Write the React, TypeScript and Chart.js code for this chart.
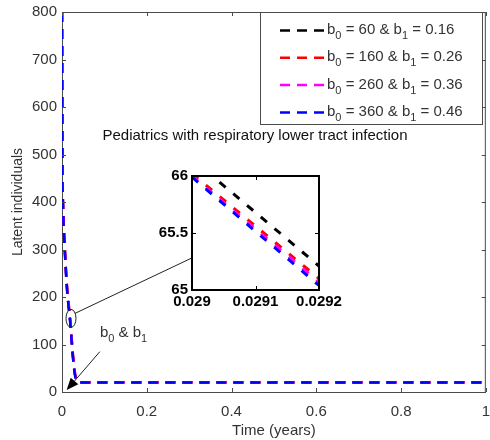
import React, { useEffect, useRef } from "react";
import { Chart, registerables } from "chart.js";
Chart.register(...registerables);

// ---------- data ----------
const timeYears = [0, 0.001, 0.004, 0.007, 0.01, 0.013, 0.016, 0.019, 0.022, 0.025, 0.028, 0.031, 0.034, 0.037, 0.045, 0.1, 0.2, 0.3, 0.4, 0.5, 0.6, 0.7, 0.8, 0.9, 1.0];
const latentB0_60 = [800, 432, 347, 292, 242, 202, 178, 152, 118, 82, 54, 35, 24, 21, 20.3, 20.3, 20.3, 20.3, 20.3, 20.3, 20.3, 20.3, 20.3, 20.3, 20.3];
const latentB0_160 = [800, 438, 353, 298, 248, 208, 184, 158, 124, 88, 59, 38, 26, 21.5, 20.5, 20.5, 20.5, 20.5, 20.5, 20.5, 20.5, 20.5, 20.5, 20.5, 20.5];
const latentB0_260 = [800, 434, 349, 294, 244, 204, 180, 154, 120, 84, 56, 36, 25, 21.2, 20.2, 20.2, 20.2, 20.2, 20.2, 20.2, 20.2, 20.2, 20.2, 20.2, 20.2];
const latentB0_360 = [800, 430, 345, 290, 240, 200, 176, 150, 116, 80, 52, 33, 23, 20.5, 20, 20, 20, 20, 20, 20, 20, 20, 20, 20, 20];

const insetTime = [0.029, 0.0291, 0.0292];
const insetB0_60 = [66.15, 65.68, 65.21];
const insetB0_160 = [66.02, 65.56, 65.1];
const insetB0_260 = [66.0, 65.535, 65.07];
const insetB0_360 = [65.99, 65.515, 65.04];

const legendB0 = [60, 160, 260, 360];
const legendB1 = [0.16, 0.26, 0.36, 0.46];
const seriesColors = ["#000000", "#ff0000", "#ff00ff", "#0000ff"];

const xTicks = [0, 0.2, 0.4, 0.6, 0.8, 1];
const yTicks = [0, 100, 200, 300, 400, 500, 600, 700, 800];
const insetXTicks = [0.029, 0.0291, 0.0292];
const insetYTicks = [65, 65.5, 66];

const titleText = "Pediatrics with respiratory lower tract infection";
const xTitle = "Time (years)";
const yTitle = "Latent individuals";

// annotation anchors in data coordinates of the main chart
const ellipseAt = { x: 0.0212, y: 155 };
const connectorEnd = { x: 0.3059, y: 282 };
const arrowFrom = { x: 0.0894, y: 85 };
const arrowTo = { x: 0.011, y: 4 };
const arrowLabelAt = { x: 0.0894, y: 116 };

const FONT = "'Liberation Sans', Arial, sans-serif";
const AXIS = "#4a4a4a";
const TEXT = "#333333";

function drawSubText(ctx: CanvasRenderingContext2D, parts: { t: string; sub?: boolean }[], x: number, y: number, size: number, subSize: number, color: string) {
  let cx = x;
  ctx.save();
  ctx.fillStyle = color;
  ctx.textAlign = "left";
  ctx.textBaseline = "alphabetic";
  for (const p of parts) {
    ctx.font = `${p.sub ? subSize : size}px ${FONT}`;
    ctx.fillText(p.t, cx, p.sub ? y + 5 : y);
    cx += ctx.measureText(p.t).width;
  }
  ctx.restore();
}

const mainDecor = {
  id: "mainDecor",
  afterDraw(chart: any) {
    const ctx: CanvasRenderingContext2D = chart.ctx;
    const a = chart.chartArea;
    const xs = chart.scales.x;
    const ys = chart.scales.y;
    ctx.save();
    // box
    ctx.strokeStyle = AXIS;
    ctx.lineWidth = 1;
    ctx.beginPath();
    ctx.moveTo(a.left, a.top + 0.5);
    ctx.lineTo(a.right - 0.5, a.top + 0.5);
    ctx.lineTo(a.right - 0.5, a.bottom);
    ctx.stroke();
    // inward ticks
    ctx.beginPath();
    for (const v of xTicks) {
      const px = Math.round(xs.getPixelForValue(v)) + 0.5;
      ctx.moveTo(px, a.bottom);
      ctx.lineTo(px, a.bottom - 4);
      ctx.moveTo(px, a.top);
      ctx.lineTo(px, a.top + 4);
    }
    for (const v of yTicks) {
      const py = Math.round(ys.getPixelForValue(v)) + 0.5;
      ctx.moveTo(a.left, py);
      ctx.lineTo(a.left + 4, py);
      ctx.moveTo(a.right, py);
      ctx.lineTo(a.right - 4, py);
    }
    ctx.stroke();

    // legend
    const lx = 260, ly = a.top, lw = 222, lh = 112;
    ctx.fillStyle = "#fff";
    ctx.fillRect(lx, ly, lw, lh);
    ctx.strokeStyle = AXIS;
    ctx.strokeRect(lx + 0.5, ly + 0.5, lw, lh);
    for (let i = 0; i < legendB0.length; i++) {
      const rowY = 29 + i * 27.3;
      ctx.save();
      ctx.strokeStyle = seriesColors[i];
      ctx.lineWidth = 2.5;
      ctx.setLineDash([10, 7]);
      ctx.beginPath();
      ctx.moveTo(280, rowY + 1.5);
      ctx.lineTo(324, rowY + 1.5);
      ctx.stroke();
      ctx.restore();
      drawSubText(ctx, [
        { t: "b" }, { t: "0", sub: true }, { t: ` = ${legendB0[i]} & ` },
        { t: "b" }, { t: "1", sub: true }, { t: ` = ${legendB1[i]}` },
      ], 327, rowY + 5, 15, 11, TEXT);
    }

    // title
    ctx.fillStyle = "#111";
    ctx.font = `15px ${FONT}`;
    ctx.textAlign = "center";
    ctx.textBaseline = "middle";
    ctx.fillText(titleText, 255, 136);

    // ellipse + connector
    const ex = xs.getPixelForValue(ellipseAt.x);
    const ey = ys.getPixelForValue(ellipseAt.y);
    ctx.strokeStyle = "#222";
    ctx.lineWidth = 1;
    ctx.beginPath();
    ctx.ellipse(ex, ey, 5, 9, 0, 0, Math.PI * 2);
    ctx.stroke();
    ctx.beginPath();
    ctx.moveTo(ex + 4, ey - 5);
    ctx.lineTo(xs.getPixelForValue(connectorEnd.x), ys.getPixelForValue(connectorEnd.y));
    ctx.stroke();

    // arrow
    const ax0 = xs.getPixelForValue(arrowFrom.x), ay0 = ys.getPixelForValue(arrowFrom.y);
    const ax1 = xs.getPixelForValue(arrowTo.x), ay1 = ys.getPixelForValue(arrowTo.y);
    const ang = Math.atan2(ay1 - ay0, ax1 - ax0);
    const hl = 12, hw = 5;
    const bx = ax1 - hl * Math.cos(ang), by = ay1 - hl * Math.sin(ang);
    ctx.beginPath();
    ctx.moveTo(ax0, ay0);
    ctx.lineTo(bx, by);
    ctx.stroke();
    ctx.fillStyle = "#000";
    ctx.beginPath();
    ctx.moveTo(ax1, ay1);
    ctx.lineTo(bx + hw * Math.sin(ang), by - hw * Math.cos(ang));
    ctx.lineTo(bx - hw * Math.sin(ang), by + hw * Math.cos(ang));
    ctx.closePath();
    ctx.fill();
    drawSubText(ctx, [{ t: "b" }, { t: "0", sub: true }, { t: " & " }, { t: "b" }, { t: "1", sub: true }],
      xs.getPixelForValue(arrowLabelAt.x), ys.getPixelForValue(arrowLabelAt.y), 15, 11, TEXT);
    ctx.restore();
  },
};

const insetDecor = {
  id: "insetDecor",
  beforeDatasetsDraw(chart: any) {
    const ctx = chart.ctx;
    const a = chart.chartArea;
    ctx.save();
    ctx.fillStyle = "#fff";
    ctx.fillRect(a.left, a.top, a.right - a.left, a.bottom - a.top);
    ctx.restore();
  },
  afterDraw(chart: any) {
    const ctx: CanvasRenderingContext2D = chart.ctx;
    const a = chart.chartArea;
    const xs = chart.scales.x;
    const ys = chart.scales.y;
    ctx.save();
    ctx.strokeStyle = "#000";
    ctx.lineWidth = 2;
    ctx.strokeRect(a.left, a.top, a.right - a.left, a.bottom - a.top);
    ctx.lineWidth = 1;
    ctx.beginPath();
    for (const v of insetXTicks) {
      const px = Math.round(xs.getPixelForValue(v)) + 0.5;
      ctx.moveTo(px, a.bottom);
      ctx.lineTo(px, a.bottom - 4);
      ctx.moveTo(px, a.top);
      ctx.lineTo(px, a.top + 4);
    }
    for (const v of insetYTicks) {
      const py = Math.round(ys.getPixelForValue(v)) + 0.5;
      ctx.moveTo(a.left, py);
      ctx.lineTo(a.left + 4, py);
      ctx.moveTo(a.right, py);
      ctx.lineTo(a.right - 4, py);
    }
    ctx.stroke();
    ctx.restore();
  },
};

const mainSeries = [latentB0_60, latentB0_160, latentB0_260, latentB0_360];
const insetSeries = [insetB0_60, insetB0_160, insetB0_260, insetB0_360];

// hidden grid with a tick length is used as the label gap (keeps edge padding small)
const gapGrid = (len: number) => ({ display: false, drawTicks: true, tickLength: len });

export default function App() {
  const mainRef = useRef<HTMLCanvasElement>(null);
  const insetRef = useRef<HTMLCanvasElement>(null);

  useEffect(() => {
    const main = new Chart(mainRef.current!, {
      type: "line",
      data: {
        datasets: mainSeries.map((vals, i) => ({
          label: `b0 = ${legendB0[i]} & b1 = ${legendB1[i]}`,
          data: timeYears.map((t, j) => ({ x: t, y: vals[j] })),
          borderColor: seriesColors[i],
          borderWidth: 2.5,
          borderDash: [10, 7],
          pointRadius: 0,
          tension: 0,
          fill: false,
          order: 4 - i,
        })),
      },
      options: {
        animation: false,
        responsive: false,
        devicePixelRatio: 1,
        layout: { padding: { top: 12, right: 3, left: 0, bottom: 0 } },
        plugins: { legend: { display: false }, tooltip: { enabled: false } },
        scales: {
          x: {
            type: "linear",
            min: 0,
            max: 1,
            afterBuildTicks: (s: any) => { s.ticks = xTicks.map((v) => ({ value: v })); },
            afterFit: (s: any) => { s.height = 48; },
            grid: gapGrid(11),
            border: { display: true, color: AXIS, width: 1 },
            ticks: { padding: 0, color: TEXT, font: { family: FONT, size: 15 }, maxRotation: 0, autoSkip: false, callback: (v: any) => String(v) },
            title: { display: true, text: xTitle, color: TEXT, font: { family: FONT, size: 15 }, padding: { top: 1, bottom: 0 } },
          },
          y: {
            type: "linear",
            min: 0,
            max: 800,
            afterBuildTicks: (s: any) => { s.ticks = yTicks.map((v) => ({ value: v })); },
            afterFit: (s: any) => { s.width = 62; },
            grid: gapGrid(5),
            border: { display: true, color: AXIS, width: 1 },
            ticks: { padding: 0, color: TEXT, font: { family: FONT, size: 15 }, autoSkip: false, callback: (v: any) => String(v) },
            title: { display: true, text: yTitle, color: TEXT, font: { family: FONT, size: 14 }, padding: { top: 10, bottom: 0 } },
          },
        },
      },
      plugins: [mainDecor],
    } as any);

    const inset = new Chart(insetRef.current!, {
      type: "line",
      data: {
        datasets: insetSeries.map((vals, i) => ({
          label: `inset ${legendB0[i]}`,
          data: insetTime.map((t, j) => ({ x: t, y: vals[j] })),
          borderColor: seriesColors[i],
          borderWidth: 3,
          borderDash: [8, 10],
          pointRadius: 0,
          tension: 0,
          fill: false,
          order: 4 - i,
        })),
      },
      options: {
        animation: false,
        responsive: false,
        devicePixelRatio: 1,
        layout: { padding: { top: 10, right: 31, left: 0, bottom: 0 } },
        plugins: { legend: { display: false }, tooltip: { enabled: false } },
        scales: {
          x: {
            type: "linear",
            min: 0.029,
            max: 0.0292,
            afterBuildTicks: (s: any) => { s.ticks = insetXTicks.map((v) => ({ value: v })); },
            afterFit: (s: any) => { s.height = 26; },
            grid: gapGrid(3),
            border: { display: false },
            ticks: { padding: 0, color: "#000", font: { family: FONT, size: 15, weight: "bold" }, maxRotation: 0, autoSkip: false, callback: (v: any) => String(v) },
          },
          y: {
            type: "linear",
            min: 65,
            max: 66,
            afterBuildTicks: (s: any) => { s.ticks = insetYTicks.map((v) => ({ value: v })); },
            afterFit: (s: any) => { s.width = 52; },
            grid: gapGrid(4),
            border: { display: false },
            ticks: { padding: 0, color: "#000", font: { family: FONT, size: 15, weight: "bold" }, autoSkip: false, callback: (v: any) => String(v) },
          },
        },
      },
      plugins: [insetDecor],
    } as any);

    return () => {
      main.destroy();
      inset.destroy();
    };
  }, []);

  return (
    <div style={{ position: "fixed", left: 0, top: 0, width: 490, height: 440, background: "#fff" }}>
      <canvas ref={mainRef} width={490} height={440} style={{ position: "absolute", left: 0, top: 0, width: 490, height: 440 }} />
      <canvas ref={insetRef} width={210} height={150} style={{ position: "absolute", left: 140, top: 166, width: 210, height: 150 }} />
    </div>
  );
}
